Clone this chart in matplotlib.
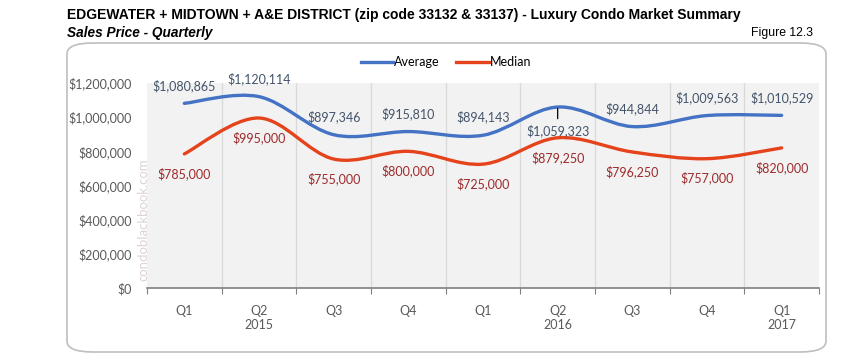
import matplotlib.pyplot as plt
import numpy as np
from matplotlib.path import Path
from matplotlib.patches import PathPatch, FancyBboxPatch
from matplotlib.lines import Line2D

quarters = ["Q1", "Q2", "Q3", "Q4", "Q1", "Q2", "Q3", "Q4", "Q1"]
years = ["", "2015", "", "", "", "2016", "", "", "2017"]
average = [1080865, 1120114, 897346, 915810, 894143, 1059323, 944844, 1009563, 1010529]
median = [785000, 995000, 755000, 800000, 725000, 879250, 796250, 757000, 820000]
avg_labels = ["$1,080,865", "$1,120,114", "$897,346", "$915,810", "$894,143",
              "$1,059,323", "$944,844", "$1,009,563", "$1,010,529"]
med_labels = ["$785,000", "$995,000", "$755,000", "$800,000", "$725,000",
              "$879,250", "$796,250", "$757,000", "$820,000"]
yticks = [0, 200000, 400000, 600000, 800000, 1000000, 1200000]

BLUE = "#4472C4"
RED = "#E5431C"
TXT = "#595959"
FONT = ["Lato", "DejaVu Sans"]
HEAD = ["Liberation Sans", "DejaVu Sans"]


def smooth_path(xs, ys):
    # Excel-style smoothed line: Catmull-Rom segments as cubic Beziers
    pts = np.column_stack([xs, ys]).astype(float)
    ext = np.vstack([pts[0], pts, pts[-1]])
    verts = [pts[0]]
    codes = [Path.MOVETO]
    for i in range(1, len(ext) - 2):
        p0, p1, p2, p3 = ext[i - 1], ext[i], ext[i + 1], ext[i + 2]
        verts += [p1 + (p2 - p0) / 6, p2 - (p3 - p1) / 6, p2]
        codes += [Path.CURVE4] * 3
    return Path(verts, codes)


fig = plt.figure(figsize=(8.68, 3.63), dpi=100)
W, H = 868, 363

# titles
fig.text(67 / W, 1 - 15 / H, "EDGEWATER + MIDTOWN + A&E DISTRICT (zip code 33132 & 33137) - Luxury Condo Market Summary",
         family=HEAD, weight="bold", fontsize=10, va="center", ha="left")
fig.text(67 / W, 1 - 33 / H, "Sales Price - Quarterly", family=HEAD,
         weight="bold", style="italic", fontsize=9.8, va="center", ha="left")
fig.text(813 / W, 1 - 33 / H, "Figure 12.3", family=HEAD,
         fontsize=8.8, va="center", ha="right")

# rounded frame
box = FancyBboxPatch((67 / W, 1 - 352 / H), (826 - 67) / W, (352 - 43) / H,
                     boxstyle="round,pad=0,rounding_size=0.03", transform=fig.transFigure,
                     facecolor="white", edgecolor="#BFBFBF", lw=1.2, zorder=-1)
fig.patches.append(box)

ax = fig.add_axes([147 / W, 1 - 288 / H, (819 - 147) / W, (288 - 83) / H])
ax.set_facecolor("#F2F2F2")
n = len(quarters)
x = np.arange(n)
ax.set_xlim(-0.5, n - 0.5)
ax.set_ylim(0, 1200000)

for b in np.arange(0.5, n - 0.5):
    ax.axvline(b, color="#D9D9D9", lw=0.9, zorder=1)

ax.add_patch(PathPatch(smooth_path(x, average), fill=False, edgecolor=BLUE, lw=2.4,
                       capstyle="round", zorder=3))
ax.add_patch(PathPatch(smooth_path(x, median), fill=False, edgecolor=RED, lw=2.4,
                       capstyle="round", zorder=3))

for i in range(n):
    if i == 5:
        ax.annotate(avg_labels[i], (x[i], average[i]), xytext=(0, -17), textcoords="offset points",
                    ha="center", va="center", fontsize=9, color="#44546A", family=FONT, zorder=4,
                    arrowprops=dict(arrowstyle="-", color="black", lw=0.9, shrinkA=2, shrinkB=1))
    else:
        ax.annotate(avg_labels[i], (x[i], average[i]), xytext=(0, 13), textcoords="offset points",
                    ha="center", va="center", fontsize=9, color="#44546A", family=FONT, zorder=4)
    ax.annotate(med_labels[i], (x[i], median[i]), xytext=(0, -14), textcoords="offset points",
                ha="center", va="center", fontsize=9, color="#9E2A2B", family=FONT, zorder=4)

ax.set_yticks(yticks)
ax.set_yticklabels(["${:,.0f}".format(v) for v in yticks], family=FONT, fontsize=9, color=TXT)
ax.tick_params(axis="y", length=0, pad=11)

ax.set_xticks(np.arange(-0.5, n))
ax.set_xticklabels([])
ax.tick_params(axis="x", length=4, color="#7F7F7F", direction="out")
ax.set_xticks(x, minor=True)
ax.set_xticklabels([q + ("\n" + y if y else "") for q, y in zip(quarters, years)], minor=True,
                   family=FONT, fontsize=9, color=TXT, linespacing=1.25, va="top")
ax.tick_params(axis="x", which="minor", length=0, pad=12)

for s in ["top", "right", "left"]:
    ax.spines[s].set_visible(False)
ax.spines["bottom"].set_color("#7F7F7F")
ax.spines["bottom"].set_linewidth(1.2)

# watermark
fig.text(143 / W, 1 - 220 / H, "condoblackbook.com", rotation=90, ha="center", va="center",
         fontsize=9.5, color="#DDD3D3", family=FONT)

handles = [Line2D([], [], color=BLUE, lw=2.4), Line2D([], [], color=RED, lw=2.4)]
fig.legend(handles, ["Average", "Median"], loc="center", bbox_to_anchor=(446 / W, 1 - 62 / H),
           ncol=2, frameon=False, prop={"family": FONT, "size": 9}, handlelength=2.6,
           handletextpad=0.1, columnspacing=1.3)

fig.savefig("out.png", dpi=100)
